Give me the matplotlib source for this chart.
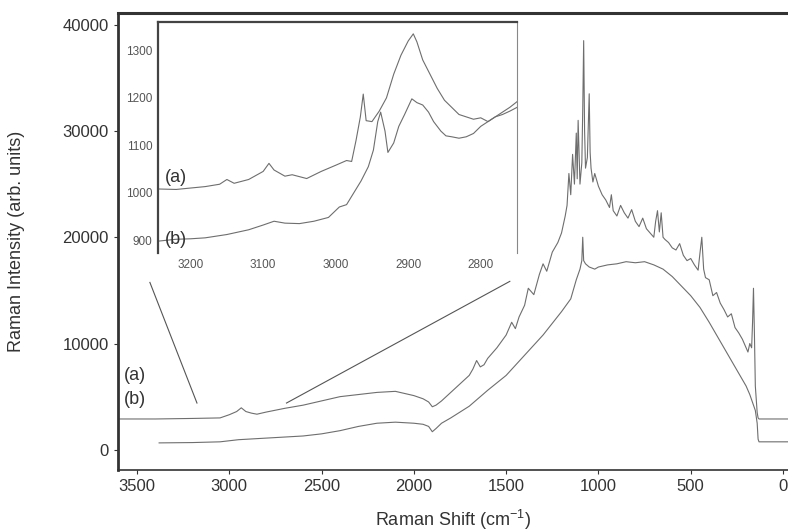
import matplotlib
matplotlib.use("Agg")
import matplotlib.pyplot as plt

plt.rcParams['font.family'] = ['Liberation Sans', 'DejaVu Sans']
plt.rcParams['mathtext.default'] = 'regular'

# main spectrum (a)
xa = [3600, 3400, 3200, 3050, 3000, 2960, 2935, 2910, 2880, 2850, 2800, 2700, 2600, 2500,
      2400, 2300, 2200, 2100, 2000, 1950, 1920, 1900, 1880, 1850, 1800, 1750, 1700, 1680,
      1660, 1640, 1620, 1600, 1550, 1500, 1470, 1450, 1430, 1400, 1380, 1350, 1320, 1300,
      1280, 1250, 1220, 1200, 1180, 1170, 1160, 1150, 1140, 1130, 1120, 1115, 1110, 1100,
      1090, 1085, 1080, 1075, 1070, 1060, 1050, 1045, 1040, 1030, 1020, 1000, 980, 960,
      940, 930, 920, 900, 880, 860, 840, 820, 800, 780, 760, 740, 720, 700, 690, 680, 670,
      660, 650, 640, 620, 600, 580, 560, 540, 520, 500, 480, 460, 450, 440, 430, 420, 400,
      380, 360, 340, 320, 300, 280, 260, 240, 220, 200, 190, 180, 170, 165, 160, 155, 150,
      140, 135, 130, 100, 50, 0, -30]
ya = [2900, 2900, 2950, 3000, 3300, 3600, 3950, 3600, 3450, 3350, 3550, 3900, 4200, 4600,
      5000, 5200, 5400, 5500, 5100, 4800, 4500, 4050, 4200, 4600, 5400, 6200, 7000, 7600,
      8400, 7800, 8000, 8600, 9600, 10800, 12000, 11400, 12500, 13600, 15200, 14600, 16500, 17500,
      16800, 18600, 19500, 20400, 22000, 23000, 26000, 24000, 27800, 25000, 29800, 25500, 31000, 25000,
      27000, 32000, 38500, 30000, 26500, 27500, 33500, 28000, 26500, 25200, 26000, 24800, 24000, 23500,
      22800, 24000, 22500, 22000, 23000, 22300, 21800, 22600, 21500, 21000, 21800, 20800, 20400, 20000, 21500, 22500, 20500,
      22300, 20000, 19800, 19500, 19000, 18800, 19400, 18300, 17800, 18000, 17400, 16900, 18500, 20000, 17000, 16200, 16000,
      14500, 14800, 13800, 13200, 12500, 12800, 11500, 11000, 10400, 9600, 9200, 10000, 9600, 12000, 15200, 11000, 6000,
      3500, 3000, 2900, 2900, 2900, 2900, 2900]

# main spectrum (b)
xb = [3380, 3200, 3050, 2950, 2800, 2600, 2500, 2400, 2300, 2200, 2100, 2000, 1950, 1920,
      1900, 1880, 1850, 1800, 1700, 1600, 1500, 1400, 1300, 1200, 1150, 1120, 1100, 1090,
      1085, 1080, 1070, 1050, 1020, 1000, 950, 900, 850, 800, 750, 700, 650, 600, 550, 500,
      450, 400, 350, 300, 250, 200, 180, 160, 150, 140, 135, 130, 100, 50, 0, -30]
yb = [650, 680, 750, 950, 1100, 1300, 1500, 1800, 2200, 2500, 2600, 2500, 2400, 2200,
      1700, 2000, 2500, 3000, 4100, 5600, 7000, 8900, 10800, 13000, 14200, 16000, 17000, 17800,
      20000, 17800, 17500, 17200, 17000, 17200, 17400, 17500, 17700, 17600, 17700, 17400, 17000, 16300, 15400, 14500,
      13400, 12000, 10500, 9000, 7500, 6000, 5200, 4200, 3700, 2500, 1000, 750, 750, 750, 750, 750]

# inset, C-H stretching region
ia_x = [3245, 3220, 3200, 3180, 3160, 3150, 3140, 3120, 3100, 3092, 3085, 3070, 3060, 3040,
        3020, 3000, 2985, 2978, 2972, 2966, 2962, 2958, 2950, 2940, 2930, 2920, 2910, 2900,
        2893, 2888, 2880, 2870, 2860, 2850, 2840, 2830, 2820, 2810, 2800, 2790, 2780, 2770,
        2760, 2750]
ia_y = [1008, 1007, 1010, 1013, 1018, 1028, 1020, 1028, 1045, 1062, 1048, 1035, 1038, 1030,
        1045, 1058, 1068, 1066, 1110, 1160, 1208, 1152, 1150, 1172, 1200, 1250, 1290, 1320,
        1335, 1318, 1280, 1250, 1220, 1195, 1180, 1165, 1160, 1155, 1158, 1150, 1160, 1165,
        1172, 1180]
ib_x = [3245, 3220, 3200, 3180, 3150, 3120, 3100, 3085, 3070, 3050, 3030, 3010, 2995, 2985,
        2975, 2965, 2955, 2948, 2942, 2938, 2932, 2928, 2920, 2913, 2905, 2895, 2888, 2880,
        2872, 2865, 2855, 2848, 2840, 2830, 2820, 2810, 2800, 2790, 2780, 2770, 2760, 2750]
ib_y = [898, 902, 903, 905, 912, 922, 932, 940, 936, 935, 940, 948, 970, 975,
        1000, 1025, 1055, 1090, 1150, 1170, 1130, 1085, 1105, 1140, 1165, 1198, 1190, 1185,
        1170, 1150, 1130, 1120, 1118, 1115, 1118, 1125, 1140, 1150, 1160, 1170, 1180, 1192]

# zoom guide lines (main data coords)
guide1 = ([3430, 3175], [15750, 4400])
guide2 = ([2690, 1480], [4400, 15850])

main_xticks = [3500, 3000, 2500, 2000, 1500, 1000, 500, 0]
main_yticks = [0, 10000, 20000, 30000, 40000]
inset_xticks = [3200, 3100, 3000, 2900, 2800]
inset_yticks = [900, 1000, 1100, 1200, 1300]

lc = '#6e6e6e'

fig = plt.figure(figsize=(7.88, 5.31), dpi=100)
ax = fig.add_axes([0.1497, 0.1149, 0.8503, 0.8606])
ax.plot(xa, ya, color=lc, lw=0.8)
ax.plot(xb, yb, color=lc, lw=0.8)
ax.plot(*guide1, color='#555555', lw=0.8)
ax.plot(*guide2, color='#555555', lw=0.8)
ax.text(3570, 7000, '(a)', fontsize=13, color='#333333', va='center')
ax.text(3570, 4700, '(b)', fontsize=13, color='#333333', va='center')
ax.set_xlim(3603, -27)
ax.set_ylim(-1900, 41100)
ax.set_xticks(main_xticks)
ax.set_yticks(main_yticks)
ax.tick_params(labelsize=12, colors='#333333', length=3)
ax.spines['right'].set_visible(False)
ax.spines['top'].set_linewidth(2.2)
ax.spines['left'].set_linewidth(2.0)
ax.spines['bottom'].set_linewidth(1.2)
for s in ax.spines.values():
    s.set_color('#333333')
ax.set_xlabel('Raman Shift (cm$^{-1}$)', fontsize=13, color='#333333', labelpad=10)
ax.set_ylabel('Raman Intensity (arb. units)', fontsize=13, color='#333333')
ax.yaxis.set_label_coords(-0.139, 0.5)

ins = fig.add_axes([0.2005, 0.5235, 0.4556, 0.4351])
ins.plot(ia_x, ia_y, color=lc, lw=0.8)
ins.plot(ib_x, ib_y, color=lc, lw=0.8)
ins.text(0.02, 0.325, '(a)', transform=ins.transAxes, fontsize=13, color='#333333', va='center')
ins.text(0.02, 0.06, '(b)', transform=ins.transAxes, fontsize=13, color='#333333', va='center')
ins.set_xlim(3245, 2750)
ins.set_ylim(873, 1360)
ins.set_xticks(inset_xticks)
ins.set_yticks(inset_yticks)
ins.tick_params(labelsize=8.5, colors='#555555', length=0, pad=4)
ins.spines['bottom'].set_visible(False)
ins.spines['top'].set_linewidth(1.6)
ins.spines['left'].set_linewidth(1.6)
ins.spines['right'].set_linewidth(0.8)
ins.spines['right'].set_color('#888888')
ins.spines['top'].set_color('#444444')
ins.spines['left'].set_color('#444444')

fig.savefig('out.png', dpi=100)
